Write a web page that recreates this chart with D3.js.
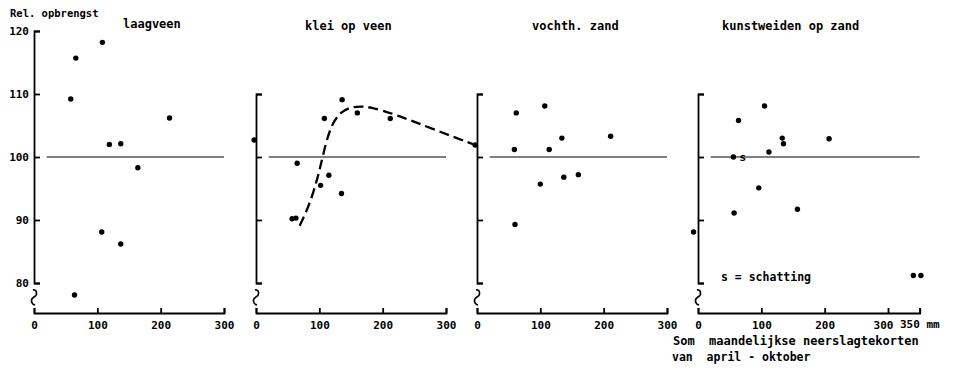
<!DOCTYPE html>
<html lang="nl">
<head>
<meta charset="utf-8">
<title>Rel. opbrengst</title>
<style>
  body { margin: 0; background: #fff; }
  text { font-family: "DejaVu Sans Mono", monospace; font-weight: bold; fill: #000; white-space: pre; }
  .tick line, .domain { stroke: #000; stroke-width: 1.8; }
</style>
</head>
<body>
<div id="graph-div"></div>
<script src="https://d3js.org/d3.v7.min.js"></script>
<script>
// neerslagtekort (mm) en relatieve opbrengst per grondsoort
var laagveenX = [58, 66, 108, 119, 137, 164, 214, 107, 137, 64];
var laagveenY = [109.2, 115.7, 118.2, 102.0, 102.1, 98.3, 106.2, 88.1, 86.2, 78.1];

var kleiX = [-3, 65, 108, 136, 160, 212, 115, 102, 135, 57, 63, 346];
var kleiY = [102.7, 99.0, 106.1, 109.1, 107.0, 106.1, 97.1, 95.5, 94.2, 90.2, 90.3, 101.9];
// gestippelde lijn klei op veen
var kleiCurveX = [69, 85, 98, 105, 117, 133, 154, 180, 222, 275, 346];
var kleiCurveY = [89.1, 92.5, 96.9, 100.0, 104.8, 107.2, 108.1, 108.0, 106.7, 104.6, 101.9];

var zandX = [62, 107, 59, 114, 134, 211, 100, 137, 160, 60];
var zandY = [107.0, 108.1, 101.2, 101.2, 103.0, 103.3, 95.7, 96.8, 97.2, 89.3];

var kunstX = [64, 105, 133, 135, 112, 207, 56, 96, 57, 157, -7, 340, 352];
var kunstY = [105.8, 108.1, 103.0, 102.1, 100.8, 102.9, 100.0, 95.1, 91.1, 91.7, 88.1, 81.2, 81.2];

var panelTitles = ["laagveen", "klei op veen", "vochth. zand", "kunstweiden op zand"];
var yTicks = [80, 90, 100, 110, 120];

var W = 961, H = 369;
var svg = d3.select("#graph-div").append("svg")
  .attr("width", W).attr("height", H);

var yTop = 31, yBottom = 283, xAxisY = 313;
var y = d3.scaleLinear().domain([80, 120]).range([yBottom, yTop]);

var panels = [
  {x0: 34,  max: 300, xs: laagveenX, ys: laagveenY, title: panelTitles[0], tx: 123, ty: 28, yMax: 120, labels: true},
  {x0: 256, max: 300, xs: kleiX, ys: kleiY, title: panelTitles[1], tx: 305, ty: 30, yMax: 110},
  {x0: 477, max: 300, xs: zandX, ys: zandY, title: panelTitles[2], tx: 532, ty: 30, yMax: 110},
  {x0: 698, max: 350, xs: kunstX, ys: kunstY, title: panelTitles[3], tx: 722, ty: 30, yMax: 110}
];
var pxPerMm = 190 / 300;

panels.forEach(function(p, i) {
  var g = svg.append("g");
  var x = d3.scaleLinear().domain([0, p.max]).range([p.x0, p.x0 + p.max * pxPerMm]);
  p.x = x;

  // y-as
  var ys = d3.scaleLinear().domain([80, p.yMax]).range([y(80), y(p.yMax)]);
  var yAxis = d3.axisLeft(ys)
    .tickValues(yTicks.filter(function(v) { return v <= p.yMax; }))
    .tickSize(-6).tickPadding(5);
  if (!p.labels) yAxis.tickFormat("");
  g.append("g").attr("transform", "translate(" + p.x0 + ",0)").call(yAxis)
    .selectAll("text").style("font-size", "11px");

  // onderbreking van de as
  var bx = p.x0;
  g.append("path")
    .attr("d", "M" + (bx - 1) + ",290 C" + (bx + 3) + ",289 " + (bx + 4) + ",295 " + bx + ",297 C" + (bx - 4) + ",299 " + (bx - 3) + ",304 " + (bx + 1) + ",305")
    .attr("fill", "none").attr("stroke", "#000").attr("stroke-width", 1.6);

  // x-as
  var xt = p.max === 350 ? [0, 100, 200, 300, 350] : [0, 100, 200, 300];
  var xAxis = d3.axisBottom(x).tickValues(xt).tickSize(-5).tickSizeOuter(-5).tickPadding(8);
  if (p.max === 350) xAxis.tickFormat(function(d) { return d === 350 ? "" : d; });
  var xg = g.append("g").attr("transform", "translate(0," + xAxisY + ")").call(xAxis);
  xg.selectAll("text").style("font-size", "11px");
  if (p.max === 350) xg.selectAll("text").filter(function(d) { return d === 300; }).attr("dx", -5);

  // 100%-lijn
  g.append("line")
    .attr("x1", x(20)).attr("x2", x(p.max))
    .attr("y1", y(100)).attr("y2", y(100))
    .attr("stroke", "#000").attr("stroke-width", 1);

  // titel
  g.append("text").attr("x", p.tx).attr("y", p.ty).style("font-size", "12px").text(p.title);

  // punten
  g.selectAll("circle").data(p.xs).enter().append("circle")
    .attr("cx", function(d) { return x(d); })
    .attr("cy", function(d, j) { return y(p.ys[j]); })
    .attr("r", 2.7).attr("fill", "#000");
});

// gestippelde curve klei op veen
var kx = panels[1].x;
svg.append("path")
  .datum(kleiCurveX.map(function(d, i) { return [d, kleiCurveY[i]]; }))
  .attr("d", d3.line().x(function(d) { return kx(d[0]); }).y(function(d) { return y(d[1]); }).curve(d3.curveBasis))
  .attr("fill", "none").attr("stroke", "#000").attr("stroke-width", 2.3)
  .attr("stroke-dasharray", "10,5");

// teksten
svg.append("text").attr("x", 10).attr("y", 17).style("font-size", "10.5px").text("Rel. opbrengst");
var k = panels[3].x;
svg.append("text").attr("x", 900).attr("y", 328).style("font-size", "11px").text("350 mm");
svg.append("text").attr("x", k(56) + 6).attr("y", y(100) + 4).style("font-size", "11px").text("s");
svg.append("text").attr("x", 721).attr("y", 281).style("font-size", "11.5px").text("s = schatting");
svg.append("text").attr("x", 673).attr("y", 345).style("font-size", "12px").text("Som  maandelijkse neerslagtekorten");
svg.append("text").attr("x", 672).attr("y", 361).style("font-size", "11.5px").text("van  april - oktober");
</script>
</body>
</html>
